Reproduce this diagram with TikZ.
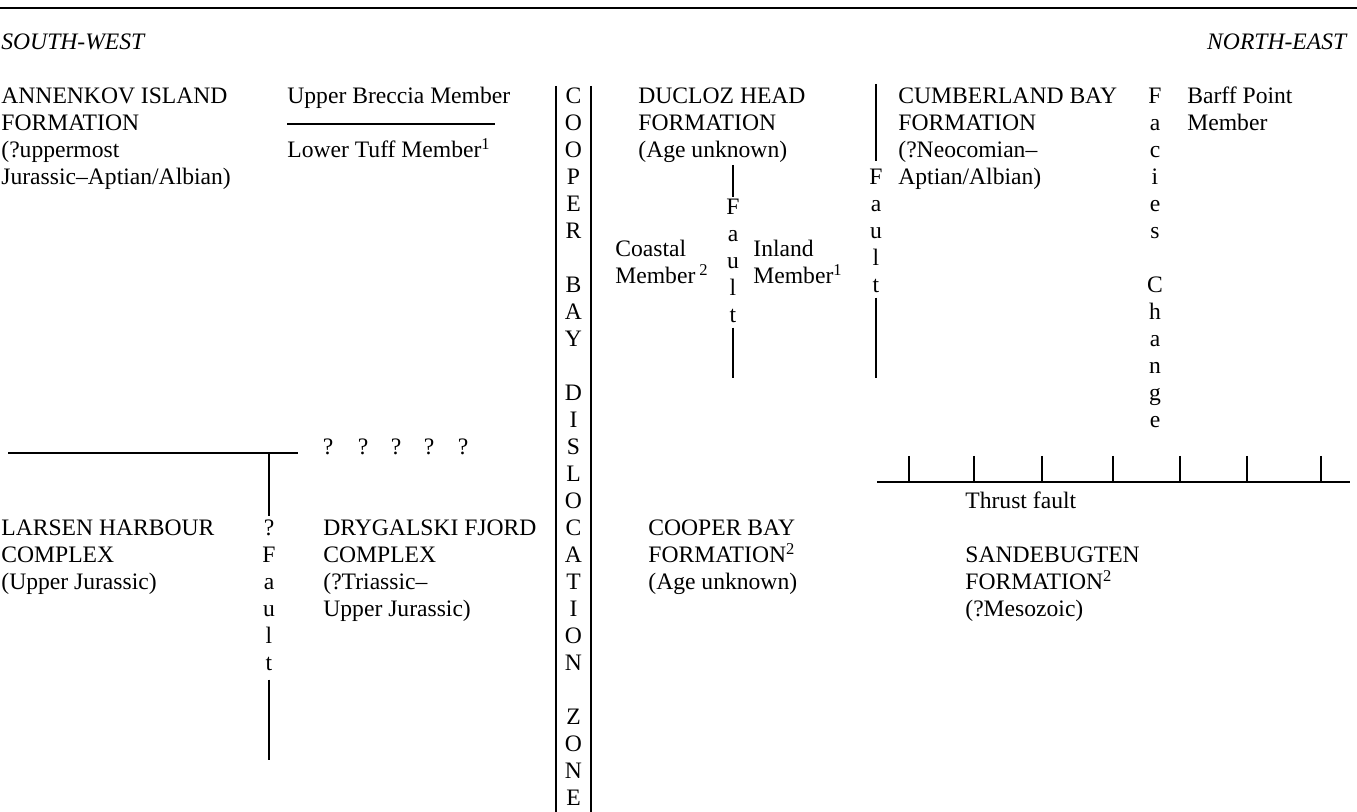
\documentclass[tikz,border=0pt]{standalone}
\usepackage{fontspec}
\setmainfont{Liberation Serif}
\usetikzlibrary{positioning}

% baseline of text row #1 (rows are 27 units apart)
\newcommand{\rb}[1]{104+27*(#1)}

\begin{document}
\begin{tikzpicture}[x=0.5pt,y=-0.5pt]
    \tikzstyle{lbl} = [anchor=base west, inner sep=0pt, font=\fontsize{11.8}{13}\selectfont];
    \tikzstyle{chr} = [anchor=base, inner sep=0pt, font=\fontsize{11.8}{13}\selectfont];
    \tikzstyle{rule} = [line width=0.9pt];

    \useasboundingbox (0,0) rectangle (1357,812);

    % heading
    \coordinate (topL) at (0,8);
    \coordinate (topR) at (1357,8);
    \draw[line width=1.1pt] (topL) -- (topR);
    \node[lbl] (sw) at (1,50) {\textit{SOUTH-WEST}};
    \node[lbl, anchor=base east] (ne) at (1348,50) {\textit{NORTH-EAST}};

    % south-west side, upper
    \node[lbl] (ann1) at (1,{\rb{0}}) {ANNENKOV ISLAND};
    \node[lbl] (ann2) at (1,{\rb{1}}) {FORMATION};
    \node[lbl] (ann3) at (1,{\rb{2}}) {(?uppermost};
    \node[lbl] (ann4) at (1,{\rb{3}}) {Jurassic--Aptian/Albian)};

    \node[lbl] (ubm) at (287,{\rb{0}}) {Upper Breccia Member};
    \node[lbl] (ltm) at (287,{\rb{2}}) {Lower Tuff Member\textsuperscript{1}};
    \coordinate (brkL) at (287,124);
    \coordinate (brkR) at (495,124);
    \draw[rule] (brkL) -- (brkR);

    % south-west side, lower
    \coordinate (swL) at (8,453);
    \coordinate (swR) at (298,453);
    \coordinate (lfTop) at (269,453);
    \coordinate (lfBot) at (269,760);
    \draw[rule] (swL) -- (swR);
    \foreach \x [count=\i] in {328,363,396,429,463}
        \node[chr] (qm\i) at (\x,{\rb{13}}) {?};

    \foreach \ch [count=\i from 0] in {?,F,a,u,l,t}
        \node[chr] (lf\i) at (269,{\rb{16+\i}}) {\ch};
    \draw[rule] (lfTop) -- ([yshift=2pt]lf0.north);
    \draw[rule] ([yshift=-4pt]lf5.south) -- (lfBot);

    \node[lbl] (lh1) at (1,{\rb{16}}) {LARSEN HARBOUR};
    \node[lbl] (lh2) at (1,{\rb{17}}) {COMPLEX};
    \node[lbl] (lh3) at (1,{\rb{18}}) {(Upper Jurassic)};

    \node[lbl] (df1) at (323,{\rb{16}}) {DRYGALSKI FJORD};
    \node[lbl] (df2) at (323,{\rb{17}}) {COMPLEX};
    \node[lbl] (df3) at (323,{\rb{18}}) {(?Triassic--};
    \node[lbl] (df4) at (323,{\rb{19}}) {Upper Jurassic)};

    % dislocation zone
    \coordinate (zLt) at (556,86);
    \coordinate (zLb) at (556,812);
    \coordinate (zRt) at (591,86);
    \coordinate (zRb) at (591,812);
    \draw[rule] (zLt) -- (zLb);
    \draw[rule] (zRt) -- (zRb);
    \foreach \ch [count=\i from 0] in {C,O,O,P,E,R,{},B,A,Y,{},D,I,S,L,O,C,A,T,I,O,N,{},Z,O,N,E}
        \node[chr] (zone\i) at (573.5,{\rb{\i}}) {\ch};

    % north-east side
    \node[lbl] (dh1) at (638,{\rb{0}}) {DUCLOZ HEAD};
    \node[lbl] (dh2) at (638,{\rb{1}}) {FORMATION};
    \node[lbl] (dh3) at (638,{\rb{2}}) {(Age unknown)};

    \coordinate (mfTop) at (733,165);
    \coordinate (mfBot) at (733,378);
    \foreach \ch [count=\i from 0] in {F,a,u,l,t}
        \node[chr] (mf\i) at (733,{\rb{4+\i}+3}) {\ch};
    \draw[rule] (mfTop) -- ([yshift=1pt]mf0.north);
    \draw[rule] ([yshift=-2pt]mf4.south) -- (mfBot);

    \node[lbl] (cm1) at (615,257) {Coastal};
    \node[lbl] (cm2) at (615,284) {Member\,\textsuperscript{2}};
    \node[lbl] (im1) at (753,257) {Inland};
    \node[lbl] (im2) at (753,284) {Member\textsuperscript{1}};

    \coordinate (rfTop) at (876,84);
    \coordinate (rfBot) at (876,378);
    \foreach \ch [count=\i from 0] in {F,a,u,l,t}
        \node[chr] (rf\i) at (876,{\rb{3+\i}}) {\ch};
    \draw[rule] (rfTop) -- ([yshift=4pt]rf0.north);
    \draw[rule] ([yshift=-2pt]rf4.south) -- (rfBot);

    \node[lbl] (cb1) at (898,{\rb{0}}) {CUMBERLAND BAY};
    \node[lbl] (cb2) at (898,{\rb{1}}) {FORMATION};
    \node[lbl] (cb3) at (898,{\rb{2}}) {(?Neocomian--};
    \node[lbl] (cb4) at (898,{\rb{3}}) {Aptian/Albian)};

    \foreach \ch [count=\i from 0] in {F,a,c,i,e,s,{},C,h,a,n,g,e}
        \node[chr] (fc\i) at (1155,{\rb{\i}}) {\ch};

    \node[lbl] (bp1) at (1187,{\rb{0}}) {Barff Point};
    \node[lbl] (bp2) at (1187,{\rb{1}}) {Member};

    % thrust fault
    \coordinate (thL) at (877,482);
    \coordinate (thR) at (1350,482);
    \draw[rule] (thL) -- (thR);
    \foreach \x [count=\i] in {909,974,1042,1113,1180,1247,1321} {
        \coordinate (tk\i) at (\x,456);
        \draw[rule] (tk\i) -- (tk\i |- thL);
    }
    \node[lbl] (tf) at (965,{\rb{15}}) {Thrust fault};

    \node[lbl] (cf1) at (648,{\rb{16}}) {COOPER BAY};
    \node[lbl] (cf2) at (648,{\rb{17}}) {FORMATION\textsuperscript{2}};
    \node[lbl] (cf3) at (648,{\rb{18}}) {(Age unknown)};

    \node[lbl] (sb1) at (965,{\rb{17}}) {SANDEBUGTEN};
    \node[lbl] (sb2) at (965,{\rb{18}}) {FORMATION\textsuperscript{2}};
    \node[lbl] (sb3) at (965,{\rb{19}}) {(?Mesozoic)};
\end{tikzpicture}
\end{document}
